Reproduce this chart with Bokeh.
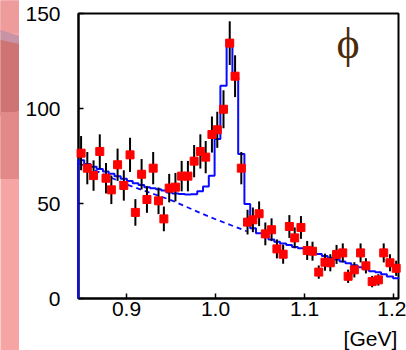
from bokeh.plotting import figure
from bokeh.layouts import row, column
from bokeh.models import Range1d, FixedTicker, Label
from bokeh.embed import file_html
from bokeh.resources import INLINE

# ---------------- data ----------------
mass = [0.849, 0.856, 0.863, 0.870, 0.877, 0.883, 0.890, 0.897, 0.904, 0.910,
        0.917, 0.923, 0.930, 0.936, 0.942, 0.948, 0.955, 0.962, 0.969, 0.976,
        0.983, 0.989, 0.996, 1.002, 1.009, 1.016, 1.022, 1.029, 1.036, 1.042,
        1.049, 1.056, 1.063, 1.069, 1.076, 1.083, 1.089, 1.096, 1.103, 1.109,
        1.116, 1.123, 1.129, 1.136, 1.143, 1.149, 1.156, 1.163, 1.169, 1.176,
        1.183, 1.189, 1.196, 1.203]
counts = [76.5, 68.6, 64.7, 77.4, 63.3, 57.2, 70.4, 59.5, 75.6, 45.3,
          65.4, 52.1, 68.6, 51.4, 41.9, 58.1, 58.6, 64.4, 64.4, 72.3,
          77.4, 74.4, 86.3, 88.8, 99.6, 134.4, 117.0, 68.6, 40.2, 41.4,
          44.6, 34.0, 36.2, 26.1, 23.3, 37.9, 31.9, 37.4, 25.3, 24.9,
          13.9, 19.1, 18.8, 23.2, 24.0, 11.7, 15.1, 24.0, 17.2, 8.9,
          9.8, 24.0, 18.8, 15.9]
errors = [9.0, 8.5, 8.0, 9.0, 8.0, 7.5, 8.5, 8.0, 9.0, 7.0,
          8.0, 7.0, 8.5, 7.0, 6.5, 7.5, 7.5, 8.0, 8.0, 8.5,
          9.0, 8.5, 9.5, 9.5, 10.0, 11.5, 11.0, 8.5, 6.5, 6.5,
          6.5, 6.0, 6.0, 5.0, 5.0, 6.0, 5.5, 6.0, 5.0, 5.0,
          3.5, 4.5, 4.5, 5.0, 5.0, 3.5, 4.0, 5.0, 4.0, 3.0,
          3.0, 5.0, 4.5, 4.0]
bin_width = 0.00668
fit_hist = [72.7, 70.8, 69.4, 68.1, 66.8, 65.6, 64.3, 63.0, 61.8, 60.7,
            59.7, 58.6, 58.0, 57.5, 56.9, 55.8, 55.3, 55.0, 54.7, 54.9,
            56.5, 59.0, 64.6, 84.0, 112.0, 136.0, 116.5, 76.0, 49.7, 37.0,
            34.4, 32.7, 31.1, 29.9, 28.9, 28.1, 27.1, 26.4, 25.7, 24.8,
            23.4, 22.4, 21.4, 20.5, 19.5, 18.5, 17.5, 16.4, 15.4, 14.4,
            13.8, 12.7, 11.6, 10.6]
bg_mass = [0.846, 0.900, 0.950, 0.994, 1.035]
bg_counts = [71.3, 60.0, 51.8, 42.8, 35.4]
x_ticks = [0.9, 1.0, 1.1, 1.2]
x_tick_labels = ["0.9", "1.0", "1.1", "1.2"]
y_ticks = [0, 50, 100, 150]
peak_label = "ϕ"
unit_label = "[GeV]"

# ---------------- derived ----------------
edges = [mass[0] - bin_width / 2]
for a, b in zip(mass[:-1], mass[1:]):
    edges.append((a + b) / 2)
edges.append(mass[-1] + bin_width / 2)
hx, hy = [edges[0]], [0.0]
for i, v in enumerate(fit_hist):
    hx += [edges[i], edges[i + 1]]
    hy += [v, v]

lo = [c - e for c, e in zip(counts, errors)]
hi = [c + e for c, e in zip(counts, errors)]

BLUE = "#0a0aff"
FONT = "Liberation Sans"

p = figure(width=387, height=322, x_range=Range1d(0.8461, 1.2056),
           y_range=Range1d(0, 150), output_backend="svg", toolbar_location=None,
           min_border_left=59, min_border_right=8, min_border_top=10,
           min_border_bottom=27)
p.background_fill_color = "white"
p.border_fill_color = "white"
p.outline_line_color = "black"
p.outline_line_width = 2
p.grid.visible = False

p.line(bg_mass, bg_counts, line_color=BLUE, line_width=1.8, line_dash="5 4", level="overlay")
p.line(hx, hy, line_color=BLUE, line_width=2, level="overlay")
p.segment(x0=mass, y0=lo, x1=mass, y1=hi, line_color="black", line_width=2, level="overlay")
p.scatter(mass, counts, marker="square", size=8, fill_color="#ff0000",
          line_color="#ff0000", level="overlay")

for ax in (p.xaxis[0], p.yaxis[0]):
    ax.major_tick_in = 5
    ax.major_tick_out = 0
    ax.minor_tick_in = 0
    ax.minor_tick_out = 0
    ax.axis_line_width = 2
    ax.major_tick_line_width = 1.5
    ax.major_label_text_font = FONT
    ax.major_label_text_font_size = "21px"
    ax.major_label_text_color = "black"
p.xaxis.ticker = FixedTicker(ticks=x_ticks)
p.xaxis.major_label_overrides = {t: s for t, s in zip(x_ticks, x_tick_labels)}
p.yaxis.ticker = FixedTicker(ticks=y_ticks)
p.xaxis.major_label_standoff = 3
p.yaxis.major_label_standoff = 18

p.add_layout(Label(x=1.149, y=134, text=peak_label, text_align="center",
                   text_baseline="middle",
                   text_font="Liberation Serif, DejaVu Serif, serif",
                   text_font_size="44px", text_color="#4a2a0a"))

# strip below the plot carrying the unit text
bottom = figure(width=387, height=25, x_range=Range1d(0, 387), y_range=Range1d(0, 25),
                output_backend="svg", toolbar_location=None, min_border=0,
                x_axis_location=None, y_axis_location=None)
bottom.background_fill_color = "white"
bottom.border_fill_color = "white"
bottom.outline_line_color = None
bottom.grid.visible = False
bottom.add_layout(Label(x=353, y=12.5, text=unit_label, text_align="center",
                        text_baseline="middle", text_font=FONT,
                        text_font_size="21px", text_color="black"))

# pink slide background strips
left = figure(width=19, height=350, x_range=Range1d(0, 19), y_range=Range1d(350, 0),
              output_backend="svg", toolbar_location=None, min_border=0,
              x_axis_location=None, y_axis_location=None)
left.background_fill_color = "#f6a4a4"
left.border_fill_color = "#f6a4a4"
left.outline_line_color = None
left.grid.visible = False
left.quad(left=[0], right=[19], top=[0], bottom=[32], color="#ee9b9b")
left.patch([0, 19, 19, 0], [30, 36, 44, 40], color="#c993a6")
left.patch([0, 19, 19, 0], [40, 44, 110, 115], color="#cf7474")
left.quad(left=[0], right=[19], top=[112], bottom=[178], color="#e28a8a")

top = figure(width=387, height=3, x_range=Range1d(0, 387), y_range=Range1d(0, 3),
             output_backend="svg", toolbar_location=None, min_border=0,
             x_axis_location=None, y_axis_location=None)
top.background_fill_color = "#f5a6a6"
top.border_fill_color = "#f5a6a6"
top.outline_line_color = None
top.grid.visible = False
top.quad(left=[0], right=[271], top=[3], bottom=[0], color="#d27b7b")

layout = row(left, column(top, p, bottom, spacing=0), spacing=0)

open("out.html", "w").write(file_html(layout, INLINE))
